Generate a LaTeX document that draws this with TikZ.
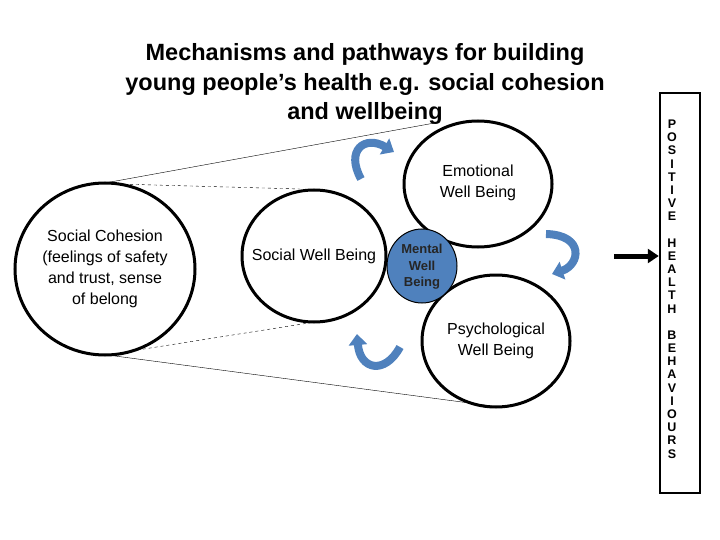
\documentclass[tikz,border=0pt]{standalone}
\usepackage{fontspec}
\setmainfont{Liberation Sans}
\usetikzlibrary{arrows.meta}
\definecolor{cblue}{RGB}{79,129,189}
\begin{document}
\begin{tikzpicture}[x=1pt,y=-1pt,
  lbl/.style={align=center,font=\fontsize{16}{21}\selectfont},
  curv/.style={draw=cblue,line width=8pt,-{Triangle[width=18pt,length=11pt]}},
  dsh/.style={dashed,thin}]
\useasboundingbox (0,0) rectangle (720,540);
\node[font=\bfseries\fontsize{23.5}{29.5}\selectfont,align=center] (title) at (365,84)
 {Mechanisms and pathways for building\\young people’s health e.g. social cohesion\\and wellbeing};
\draw[line width=3pt] (105,269) ellipse (90 and 86);
\node[lbl] (sc) at (105,269) {Social Cohesion\\(feelings of safety\\and trust, sense\\of belong};
\draw[line width=3pt,fill=white] (478,184) ellipse (74 and 63);
\node[lbl] (emo) at (478,183) {Emotional\\Well Being};
\draw[line width=3pt,fill=white] (314,256) ellipse (72 and 66);
\node[lbl] (soc) at (314,256) {Social Well Being};
\draw[line width=3pt,fill=white] (496,341) ellipse (74 and 66);
\node[lbl] (psy) at (496,341) {Psychological\\Well Being};
\draw[line width=1pt,fill=cblue] (422,266) ellipse (35 and 37);
\node[align=center,font=\bfseries\fontsize{13}{16.5}\selectfont,text=black!85] (mwb) at (422,267) {Mental\\Well\\Being};
\coordinate (a1) at (105,183); \coordinate (a2) at (440,122);
\coordinate (b1) at (118,184); \coordinate (b2) at (300,189);
\coordinate (c1) at (125,352); \coordinate (c2) at (315,322);
\coordinate (d1) at (115,356); \coordinate (d2) at (492,406);
\draw[thin] (a1) -- (a2);
\draw[dsh] (b1) -- (b2);
\draw[dsh] (c1) -- (c2);
\draw[thin] (d1) -- (d2);
\coordinate (t1) at (361,179); \coordinate (t2) at (394,152);
\draw[curv] (t1) .. controls (345,150) and (365,135) .. (t2);
\coordinate (r1) at (546,234); \coordinate (r2) at (552,274);
\draw[curv] (r1) .. controls (585,235) and (580,265) .. (r2);
\coordinate (u1) at (400,347); \coordinate (u2) at (357,334);
\draw[curv] (u1) .. controls (385,375) and (360,370) .. (u2);
\node[draw,line width=2.5pt,minimum width=40pt,minimum height=400pt,inner sep=0pt] (box) at (680,293) {};
\node[font=\bfseries\fontsize{12.5}{13.2}\selectfont,align=center] (txt) at (672,289)
 {P\\O\\S\\I\\T\\I\\V\\E\\[13pt]H\\E\\A\\L\\T\\H\\[13pt]B\\E\\H\\A\\V\\I\\O\\U\\R\\S};
\coordinate (ar) at (614,256);
\draw[line width=5pt,-{Triangle[width=14pt,length=11pt]}] (ar) -- (box.west|-ar);
\end{tikzpicture}
\end{document}
